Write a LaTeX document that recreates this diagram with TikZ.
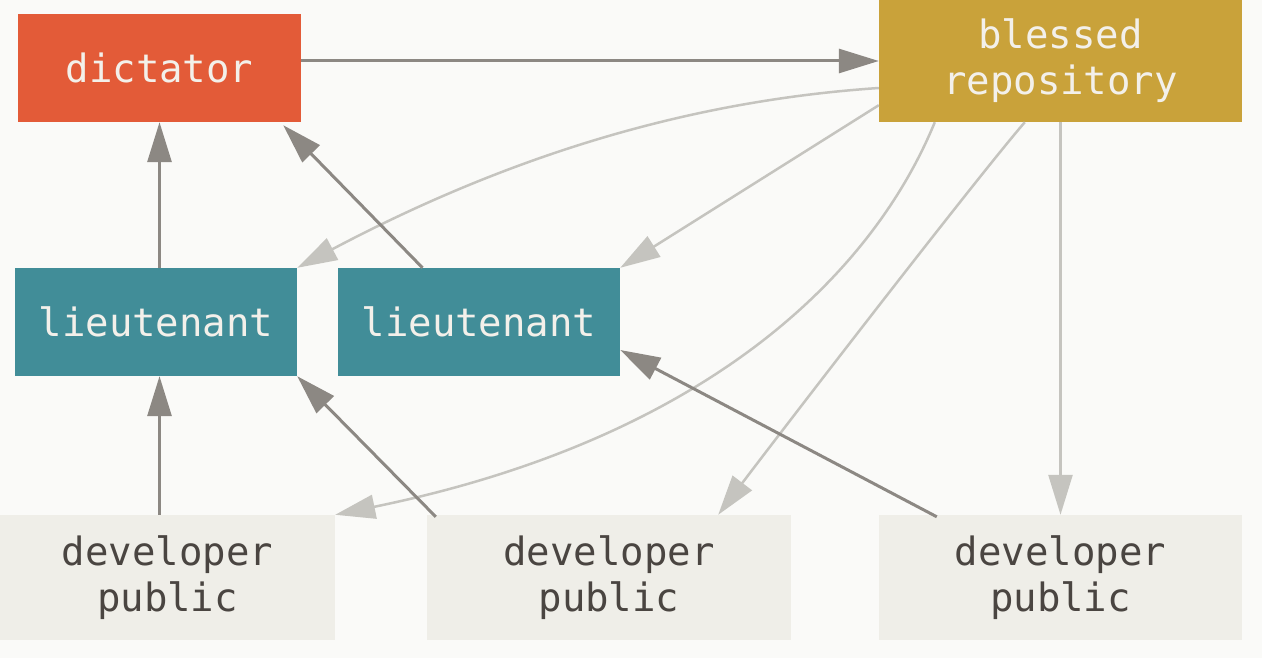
\documentclass[tikz,border=0pt]{standalone}
\usepackage{fontspec}
\setmonofont{DejaVu Sans Mono}
\usetikzlibrary{arrows.meta,calc}
\definecolor{bg}{HTML}{FAFAF8}
\definecolor{dictc}{HTML}{E35B38}
\definecolor{blessc}{HTML}{C9A23A}
\definecolor{ltc}{HTML}{418D98}
\definecolor{devc}{HTML}{EFEEE8}
\definecolor{darkarr}{HTML}{8C8883}
\definecolor{lightarr}{HTML}{C5C4BF}
\definecolor{lighttext}{HTML}{F3F0EA}
\definecolor{darktext}{HTML}{4A4541}
\begin{document}
\begin{tikzpicture}[x=1pt,y=-1pt,
  box/.style={rectangle, inner sep=0pt, align=center, font=\ttfamily\fontsize{39}{46}\selectfont},
  dictbox/.style={box, fill=dictc, text=lighttext, minimum width=283pt, minimum height=108pt},
  blessbox/.style={box, fill=blessc, text=lighttext, minimum width=363pt, minimum height=122pt},
  ltbox/.style={box, fill=ltc, text=lighttext, minimum width=282pt, minimum height=108pt},
  devbox/.style={box, fill=devc, text=darktext, minimum height=125pt},
  darkarrow/.style={draw=darkarr, line width=3pt, -{Triangle[length=40pt,width=24pt]}},
  lightarrow/.style={draw=lightarr, line width=2.5pt, -{Triangle[length=40pt,width=24pt]}}
]
\fill[bg] (0,0) rectangle (1262,658);

\node[dictbox]  (dict)  at (159.5,68)   {dictator};
\node[blessbox] (bless) at (1060.5,61)  {blessed\\repository};
\node[ltbox]    (lt1)   at (156,322)    {lieutenant};
\node[ltbox]    (lt2)   at (479,322)    {lieutenant};
\node[devbox, minimum width=335pt] (d1) at (167.5,577.5) {developer\\public};
\node[devbox, minimum width=364pt] (d2) at (609,577.5)   {developer\\public};
\node[devbox, minimum width=363pt] (d3) at (1060.5,577.5) {developer\\public};

% light arrows from blessed repository
\draw[lightarrow] ($(bless.west)+(0,27)$) .. controls (700,100) and (520,150) .. (lt1.north east);
\draw[lightarrow] ($(bless.south west)+(0,-17)$) -- (lt2.north east);
\draw[lightarrow] ($(bless.south west)+(56,0)$) .. controls (870,280) and (700,440) .. (d1.north east);
\draw[lightarrow] ($(bless.south west)+(146,0)$) .. controls (975,180) and (790,420) .. ($(d2.north east)+(-73,0)$);
\draw[lightarrow] (bless.south) -- (d3.north);

% dark arrows
\draw[darkarrow] (dict.east |- bless.west) -- (bless.west);
\draw[darkarrow] (dict.south |- lt1.north) -- (dict.south);
\draw[darkarrow] ($(lt2.north west)!0.3!(lt2.north east)$) -- ($(dict.south east)+(-18,3)$);
\draw[darkarrow] (dict.south |- d1.north) -- (dict.south |- lt1.south);
\draw[darkarrow] ($(d2.north west)+(9,2)$) -- (lt1.south east);
\draw[darkarrow] ($(d3.north west)+(58,2)$) -- ($(lt2.east)+(0,28)$);
\end{tikzpicture}
\end{document}
